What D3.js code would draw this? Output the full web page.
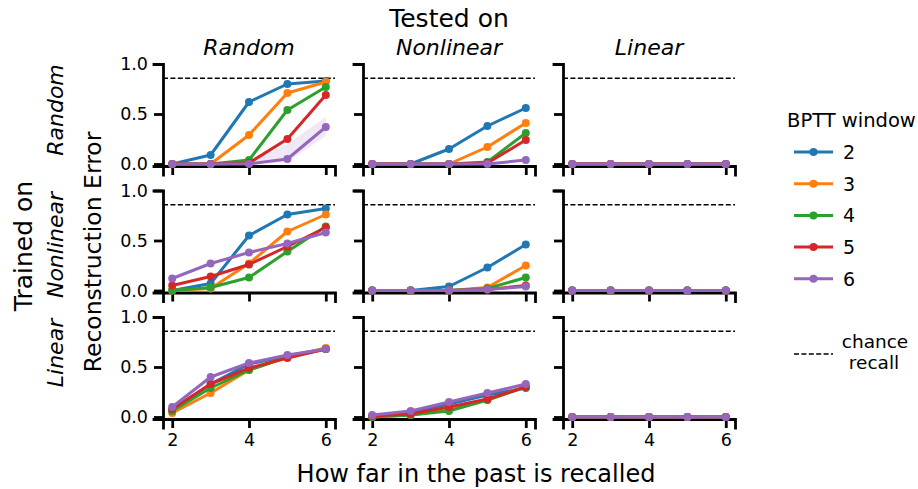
<!DOCTYPE html>
<html><head><meta charset="utf-8">
<script src="https://cdn.jsdelivr.net/npm/d3@7"></script>
<style>
html,body{margin:0;padding:0;background:#fff;}
svg{display:block;font-family:"DejaVu Sans",sans-serif;}
</style></head>
<body><svg id="c" width="918" height="489"></svg>
<script>
// ---------- data ----------
const pastSteps = [2, 3, 4, 5, 6];
const windows = ["2", "3", "4", "5", "6"];
const colors = ["#1f77b4", "#ff7f0e", "#2ca02c", "#d62728", "#9467bd"];
const testedOn = ["Random", "Nonlinear", "Linear"];
const trainedOn = ["Random", "Nonlinear", "Linear"];
const yTicks = [0.0, 0.5, 1.0];
const xTicks = [2, 4, 6];
const chance = 0.857;

// rows: trained on ; cols: tested on ; each = one series per BPTT window
const randOnRand = [
  [0.00, 0.09, 0.62, 0.80, 0.83],
  [0.00, 0.00, 0.29, 0.71, 0.82],
  [0.00, 0.00, 0.04, 0.54, 0.77],
  [0.00, 0.00, 0.01, 0.25, 0.69],
  [0.00, 0.00, 0.00, 0.05, 0.37]
];
const randOnNonlin = [
  [0.00, 0.00, 0.15, 0.38, 0.56],
  [0.00, 0.00, 0.00, 0.17, 0.41],
  [0.00, 0.00, 0.00, 0.02, 0.31],
  [0.00, 0.00, 0.00, 0.01, 0.24],
  [0.00, 0.00, 0.00, 0.00, 0.04]
];
const randOnLin = [
  [0.00, 0.00, 0.00, 0.00, 0.00],
  [0.00, 0.00, 0.00, 0.00, 0.00],
  [0.00, 0.00, 0.00, 0.00, 0.00],
  [0.00, 0.00, 0.00, 0.00, 0.00],
  [0.00, 0.00, 0.00, 0.00, 0.00]
];
const nonlinOnRand = [
  [0.00, 0.07, 0.55, 0.76, 0.82],
  [0.00, 0.02, 0.27, 0.59, 0.76],
  [0.00, 0.03, 0.13, 0.39, 0.64],
  [0.05, 0.14, 0.26, 0.44, 0.63],
  [0.12, 0.27, 0.38, 0.47, 0.58]
];
const nonlinOnNonlin = [
  [0.00, 0.00, 0.04, 0.23, 0.46],
  [0.00, 0.00, 0.00, 0.03, 0.25],
  [0.00, 0.00, 0.00, 0.02, 0.13],
  [0.00, 0.00, 0.00, 0.01, 0.05],
  [0.00, 0.00, 0.00, 0.01, 0.04]
];
const nonlinOnLin = [
  [0.00, 0.00, 0.00, 0.00, 0.00],
  [0.00, 0.00, 0.00, 0.00, 0.00],
  [0.00, 0.00, 0.00, 0.00, 0.00],
  [0.00, 0.00, 0.00, 0.00, 0.00],
  [0.00, 0.00, 0.00, 0.00, 0.00]
];
const linOnRand = [
  [0.07, 0.33, 0.53, 0.61, 0.68],
  [0.04, 0.24, 0.47, 0.60, 0.69],
  [0.06, 0.29, 0.47, 0.60, 0.68],
  [0.08, 0.33, 0.49, 0.59, 0.68],
  [0.10, 0.40, 0.54, 0.62, 0.68]
];
const linOnNonlin = [
  [0.01, 0.05, 0.13, 0.22, 0.29],
  [0.00, 0.02, 0.07, 0.17, 0.31],
  [0.00, 0.02, 0.06, 0.17, 0.30],
  [0.01, 0.03, 0.10, 0.18, 0.30],
  [0.02, 0.06, 0.15, 0.24, 0.33]
];
const linOnLin = [
  [0.00, 0.00, 0.00, 0.00, 0.00],
  [0.00, 0.00, 0.00, 0.00, 0.00],
  [0.00, 0.00, 0.00, 0.00, 0.00],
  [0.00, 0.00, 0.00, 0.00, 0.00],
  [0.00, 0.00, 0.00, 0.00, 0.00]
];
// visible confidence band (window 6, random on random)
const bandLo = [0.00, 0.00, 0.00, 0.02, 0.28];
const bandHi = [0.00, 0.00, 0.02, 0.20, 0.47];

const grid = [
  [randOnRand, randOnNonlin, randOnLin],
  [nonlinOnRand, nonlinOnNonlin, nonlinOnLin],
  [linOnRand, linOnNonlin, linOnLin]
];

// ---------- layout ----------
const svg = d3.select("#c");
const colX = [163, 363, 563];
const panelW = 172;
const rowTop = [64, 190.5, 317];
const panelH = 102;
const font = "DejaVu Sans";

grid.forEach((row, r) => {
  row.forEach((panel, c) => {
    const x = d3.scaleLinear().domain([1.76, 6.24]).range([colX[c], colX[c] + panelW]);
    const y = d3.scaleLinear().domain([-0.02, 1.0]).range([rowTop[r] + panelH, rowTop[r]]);
    const g = svg.append("g");

    // axes
    const ax = g.append("g").attr("transform", `translate(0,${rowTop[r] + panelH})`)
      .call(d3.axisBottom(x).tickValues(xTicks).tickFormat(r === 2 ? d3.format("d") : () => "")
        .tickSizeOuter(0).tickSize(9).tickPadding(6));
    const ay = g.append("g").attr("transform", `translate(${colX[c]},0)`)
      .call(d3.axisLeft(y).tickValues(yTicks).tickFormat(c === 0 ? d3.format(".1f") : () => "")
        .tickSizeOuter(0).tickSize(9).tickPadding(6));
    [ax, ay].forEach(a => {
      a.select(".domain").attr("stroke", "#000").attr("stroke-width", 2.8).attr("stroke-linecap", "square");
      a.selectAll(".tick line").attr("stroke", "#000").attr("stroke-width", 2.8);
      a.selectAll(".tick text").attr("fill", "#000").attr("font-size", 17.5).attr("font-family", font);
    });

    // chance line
    g.append("line")
      .attr("x1", x.range()[0]).attr("x2", x.range()[1])
      .attr("y1", y(chance)).attr("y2", y(chance))
      .attr("stroke", "#000").attr("stroke-width", 1.4).attr("stroke-dasharray", "5,2.4");

    // band
    if (r === 0 && c === 0) {
      const area = d3.area().x((d, i) => x(pastSteps[i])).y0((d, i) => y(bandLo[i])).y1((d, i) => y(bandHi[i]));
      g.append("path").datum(bandLo).attr("d", area).attr("fill", colors[4]).attr("opacity", 0.15);
    }

    // series
    const line = d3.line().x((d, i) => x(pastSteps[i])).y(d => y(d));
    panel.forEach((vals, s) => {
      g.append("path").datum(vals).attr("d", line)
        .attr("fill", "none").attr("stroke", colors[s]).attr("stroke-width", 3)
        .attr("stroke-linejoin", "round");
      g.selectAll(null).data(vals).enter().append("circle")
        .attr("cx", (d, i) => x(pastSteps[i])).attr("cy", d => y(d))
        .attr("r", 4).attr("fill", colors[s]);
    });
  });
});

// ---------- titles ----------
svg.append("text").attr("x", 449).attr("y", 27).attr("text-anchor", "middle")
  .attr("font-size", 25).text("Tested on");
testedOn.forEach((t, c) => {
  svg.append("text").attr("x", colX[c] + panelW / 2).attr("y", 55).attr("text-anchor", "middle")
    .attr("font-size", 22).attr("font-style", "italic").text(t);
});
const rowLabelY = [110, 245, 353];
trainedOn.forEach((t, r) => {
  svg.append("text").attr("transform", `translate(63,${rowLabelY[r]}) rotate(-90)`)
    .attr("text-anchor", "middle").attr("font-size", 22).attr("font-style", "italic").text(t);
});
svg.append("text").attr("transform", `translate(32,246) rotate(-90)`)
  .attr("text-anchor", "middle").attr("font-size", 25).text("Trained on");
svg.append("text").attr("transform", `translate(101,252) rotate(-90)`)
  .attr("text-anchor", "middle").attr("font-size", 23.5).text("Reconstruction Error");
svg.append("text").attr("x", 476).attr("y", 482).attr("text-anchor", "middle")
  .attr("font-size", 24).text("How far in the past is recalled");

// ---------- legend ----------
const lg = svg.append("g");
lg.append("text").attr("x", 787).attr("y", 127).attr("font-size", 19.5).text("BPTT window");
windows.forEach((w, i) => {
  const yy = 152 + i * 31.7;
  lg.append("line").attr("x1", 794).attr("x2", 833).attr("y1", yy).attr("y2", yy)
    .attr("stroke", colors[i]).attr("stroke-width", 3);
  lg.append("circle").attr("cx", 813.5).attr("cy", yy).attr("r", 4).attr("fill", colors[i]);
  lg.append("text").attr("x", 843).attr("y", yy + 7).attr("font-size", 19).text(w);
});
lg.append("line").attr("x1", 794).attr("x2", 833).attr("y1", 354).attr("y2", 354)
  .attr("stroke", "#000").attr("stroke-width", 1.4).attr("stroke-dasharray", "5,2.4");
lg.append("text").attr("x", 875).attr("y", 348).attr("text-anchor", "middle").attr("font-size", 18.5).text("chance");
lg.append("text").attr("x", 874).attr("y", 369).attr("text-anchor", "middle").attr("font-size", 18.5).text("recall");
</script></body></html>
